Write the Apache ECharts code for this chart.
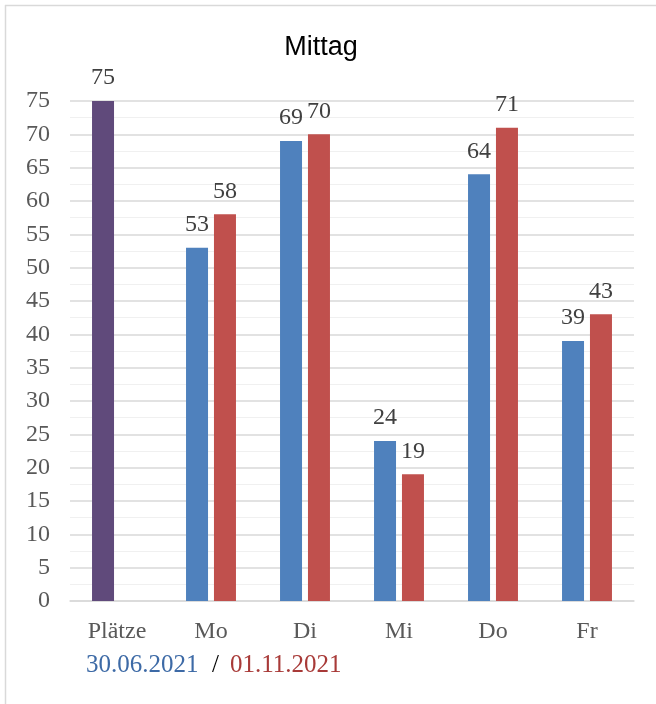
<!DOCTYPE html>
<html><head><meta charset="utf-8">
<script src="https://cdn.jsdelivr.net/npm/echarts@6/dist/echarts.min.js"></script>
<style>html,body{margin:0;padding:0;background:#fff}#c{width:656px;height:704px}</style>
</head><body><div id="c"></div>
<script>
const categories = ['Plätze', 'Mo', 'Di', 'Mi', 'Do', 'Fr'];
const series1Name = '30.06.2021';
const series2Name = '01.11.2021';
const series1Values = [75, 53, 69, 24, 64, 39];
const series2Values = [null, 58, 70, 19, 71, 43];
const yTicks = { min: 0, max: 75, interval: 5 };

const serif = "'Liberation Serif', 'DejaVu Serif', serif";
const chart = echarts.init(document.getElementById('c'), null, { renderer: 'canvas' });
const labelStyle = { show: true, position: 'top', distance: 11, fontFamily: serif, fontSize: 24, color: '#404040' };

chart.setOption({
  animation: false,
  title: { text: 'Mittag', left: 316, top: 29, textAlign: 'center',
    textStyle: { fontFamily: "'Liberation Sans', Arial, sans-serif", fontSize: 27, fontWeight: 'normal', color: '#000' } },
  grid: { left: 70, right: 22, top: 101, bottom: 103, containLabel: false },
  xAxis: {
    type: 'category', data: categories,
    axisLine: { lineStyle: { color: '#d9d9d9', width: 1.5 } },
    axisTick: { show: false },
    axisLabel: { margin: 19, fontFamily: serif, fontSize: 24, color: '#595959' }
  },
  yAxis: {
    type: 'value', min: yTicks.min, max: yTicks.max, interval: yTicks.interval,
    axisLine: { show: false }, axisTick: { show: false },
    axisLabel: { margin: 20, fontFamily: serif, fontSize: 24, color: '#595959' },
    splitLine: { lineStyle: { color: '#d9d9d9', width: 1.5 } },
    minorTick: { show: false, splitNumber: 2 },
    minorSplitLine: { show: true, lineStyle: { color: '#f0f0f0', width: 1 } }
  },
  series: [
    { name: series1Name, type: 'bar', barWidth: 22, barGap: '27%',
      data: series1Values.map((v, i) => i === 0 ? { value: v, itemStyle: { color: '#604a7b' } } : v),
      itemStyle: { color: '#4f81bd' }, label: labelStyle },
    { name: series2Name, type: 'bar', barWidth: 22, barGap: '27%',
      data: series2Values, itemStyle: { color: '#c0504d' }, label: labelStyle }
  ],
  graphic: [
    { type: 'line', shape: { x1: 5, y1: 5.5, x2: 656, y2: 5.5 }, style: { stroke: '#d9d9d9', lineWidth: 1.5 } },
    { type: 'line', shape: { x1: 5.5, y1: 5, x2: 5.5, y2: 704 }, style: { stroke: '#d9d9d9', lineWidth: 1.5 } },
    { type: 'text', left: 86, top: 653, style: { text: series1Name, fontFamily: serif, fontSize: 25, fill: '#3d6aa6' } },
    { type: 'text', left: 212, top: 653, style: { text: '/', fontFamily: serif, fontSize: 25, fill: '#000' } },
    { type: 'text', left: 230, top: 653, style: { text: series2Name, fontFamily: serif, fontSize: 25, fill: '#a83a38' } }
  ]
});
</script></body></html>
